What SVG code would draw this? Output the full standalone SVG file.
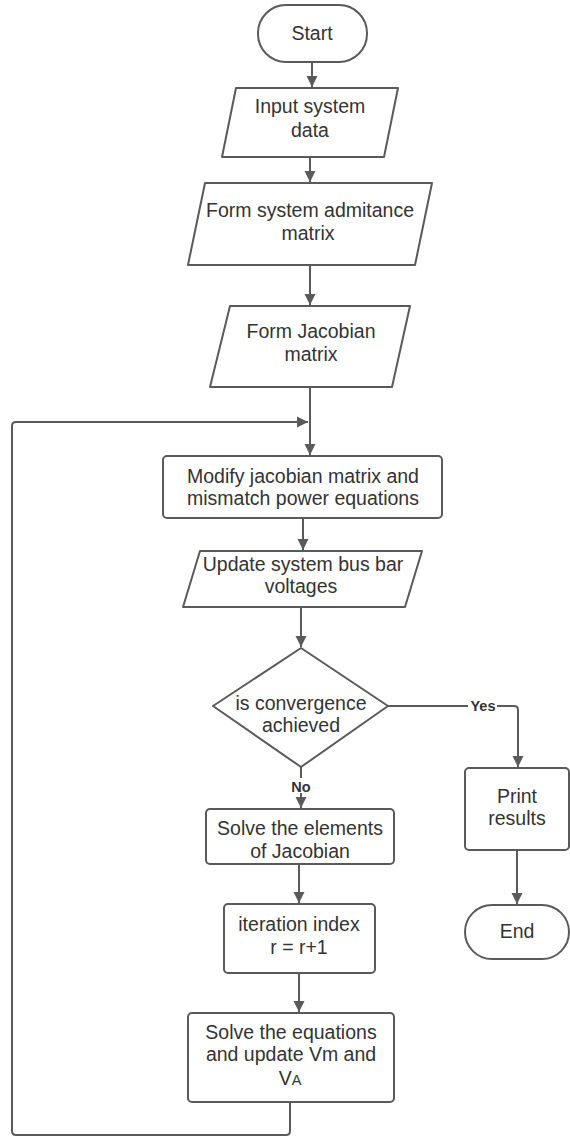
<svg xmlns="http://www.w3.org/2000/svg" width="570" height="1137" viewBox="0 0 570 1137">
<style>
.s{fill:#fff;stroke:#5a5a5a;stroke-width:2;stroke-linejoin:round}
.t{font-family:"Liberation Sans",Arial,sans-serif;font-size:19.5px;fill:#333;text-anchor:middle}
.l{font-family:"Liberation Sans",Arial,sans-serif;font-size:14.5px;font-weight:bold;fill:#333;text-anchor:middle}
.c{fill:none;stroke:#5a5a5a;stroke-width:2}
</style>
<defs>
<marker id="a" markerUnits="userSpaceOnUse" markerWidth="12" markerHeight="12" viewBox="0 0 12 12" refX="11" refY="6" orient="auto">
<path d="M0,0.5 L11,6 L0,11.5 Z" fill="#5a5a5a"/>
</marker>
</defs>
<rect width="570" height="1137" fill="#fff"/>
<g id="connectors">
<path class="c" d="M312,62 V87" marker-end="url(#a)"/>
<path class="c" d="M310,157 V182" marker-end="url(#a)"/>
<path class="c" d="M310,265 V305" marker-end="url(#a)"/>
<path class="c" d="M310,387 V455" marker-end="url(#a)"/>
<path class="c" d="M303,518 V550" marker-end="url(#a)"/>
<path class="c" d="M301,607 V647" marker-end="url(#a)"/>
<path class="c" d="M388,706 H514 Q518,706 518,710 V767" marker-end="url(#a)"/>
<path class="c" d="M301,767 V808" marker-end="url(#a)"/>
<path class="c" d="M517,850 V904" marker-end="url(#a)"/>
<path class="c" d="M299,864 V903" marker-end="url(#a)"/>
<path class="c" d="M299,973 V1012" marker-end="url(#a)"/>
<path class="c" d="M290,1102 V1131 Q290,1135 286,1135 H16 Q12,1135 12,1131 V426 Q12,422 16,422 H308" marker-end="url(#a)"/>
<rect x="468" y="699" width="29" height="15" fill="#fff"/>
<text class="l" x="483" y="711">Yes</text>
<rect x="289" y="778" width="24" height="15" fill="#fff"/>
<text class="l" x="301" y="792">No</text>
</g>
<g id="start">
<rect class="s" x="258" y="5" width="109" height="57" rx="28"/>
<text class="t" x="312" y="40">Start</text>
</g>
<g id="input">
<path class="s" d="M236,88 H398 L384,157 H222 Z"/>
<text class="t" x="310" y="113">Input system</text>
<text class="t" x="310" y="137">data</text>
</g>
<g id="admitance">
<path class="s" d="M205,183 H432 L415,265 H188 Z"/>
<text class="t" x="310" y="217">Form system admitance</text>
<text class="t" x="308" y="240">matrix</text>
</g>
<g id="jacobian">
<path class="s" d="M230,306 H410 L392,387 H210 Z"/>
<text class="t" x="311" y="338">Form Jacobian</text>
<text class="t" x="311" y="361">matrix</text>
</g>
<g id="modify">
<rect class="s" x="163" y="456" width="279" height="62" rx="4"/>
<text class="t" x="303" y="483">Modify jacobian matrix and</text>
<text class="t" x="303" y="505">mismatch power equations</text>
</g>
<g id="update">
<path class="s" d="M200,551 H422 L405,607 H183 Z"/>
<text class="t" x="303" y="571">Update system bus bar</text>
<text class="t" x="301" y="593">voltages</text>
</g>
<g id="decision">
<path class="s" d="M301,648 L388,706 L301,767 L213,706 Z"/>
<text class="t" x="301" y="710">is convergence</text>
<text class="t" x="301" y="732">achieved</text>
</g>
<g id="print">
<rect class="s" x="465" y="768" width="104" height="82" rx="4"/>
<text class="t" x="517" y="803">Print</text>
<text class="t" x="517" y="825">results</text>
</g>
<g id="end">
<rect class="s" x="465" y="905" width="104" height="54" rx="27"/>
<text class="t" x="517" y="938">End</text>
</g>
<g id="solve-elements">
<rect class="s" x="206" y="809" width="188" height="55" rx="4"/>
<text class="t" x="300" y="835">Solve the elements</text>
<text class="t" x="300" y="858">of Jacobian</text>
</g>
<g id="iteration">
<rect class="s" x="224" y="904" width="151" height="69" rx="4"/>
<text class="t" x="299" y="931">iteration index</text>
<text class="t" x="299" y="954">r = r+1</text>
</g>
<g id="solve-equations">
<rect class="s" x="188" y="1013" width="206" height="89" rx="4"/>
<text class="t" x="291" y="1039">Solve the equations</text>
<text class="t" x="291" y="1061">and update Vm and</text>
<text class="t" x="290" y="1085">V<tspan font-size="14.5">A</tspan></text>
</g>
</svg>
